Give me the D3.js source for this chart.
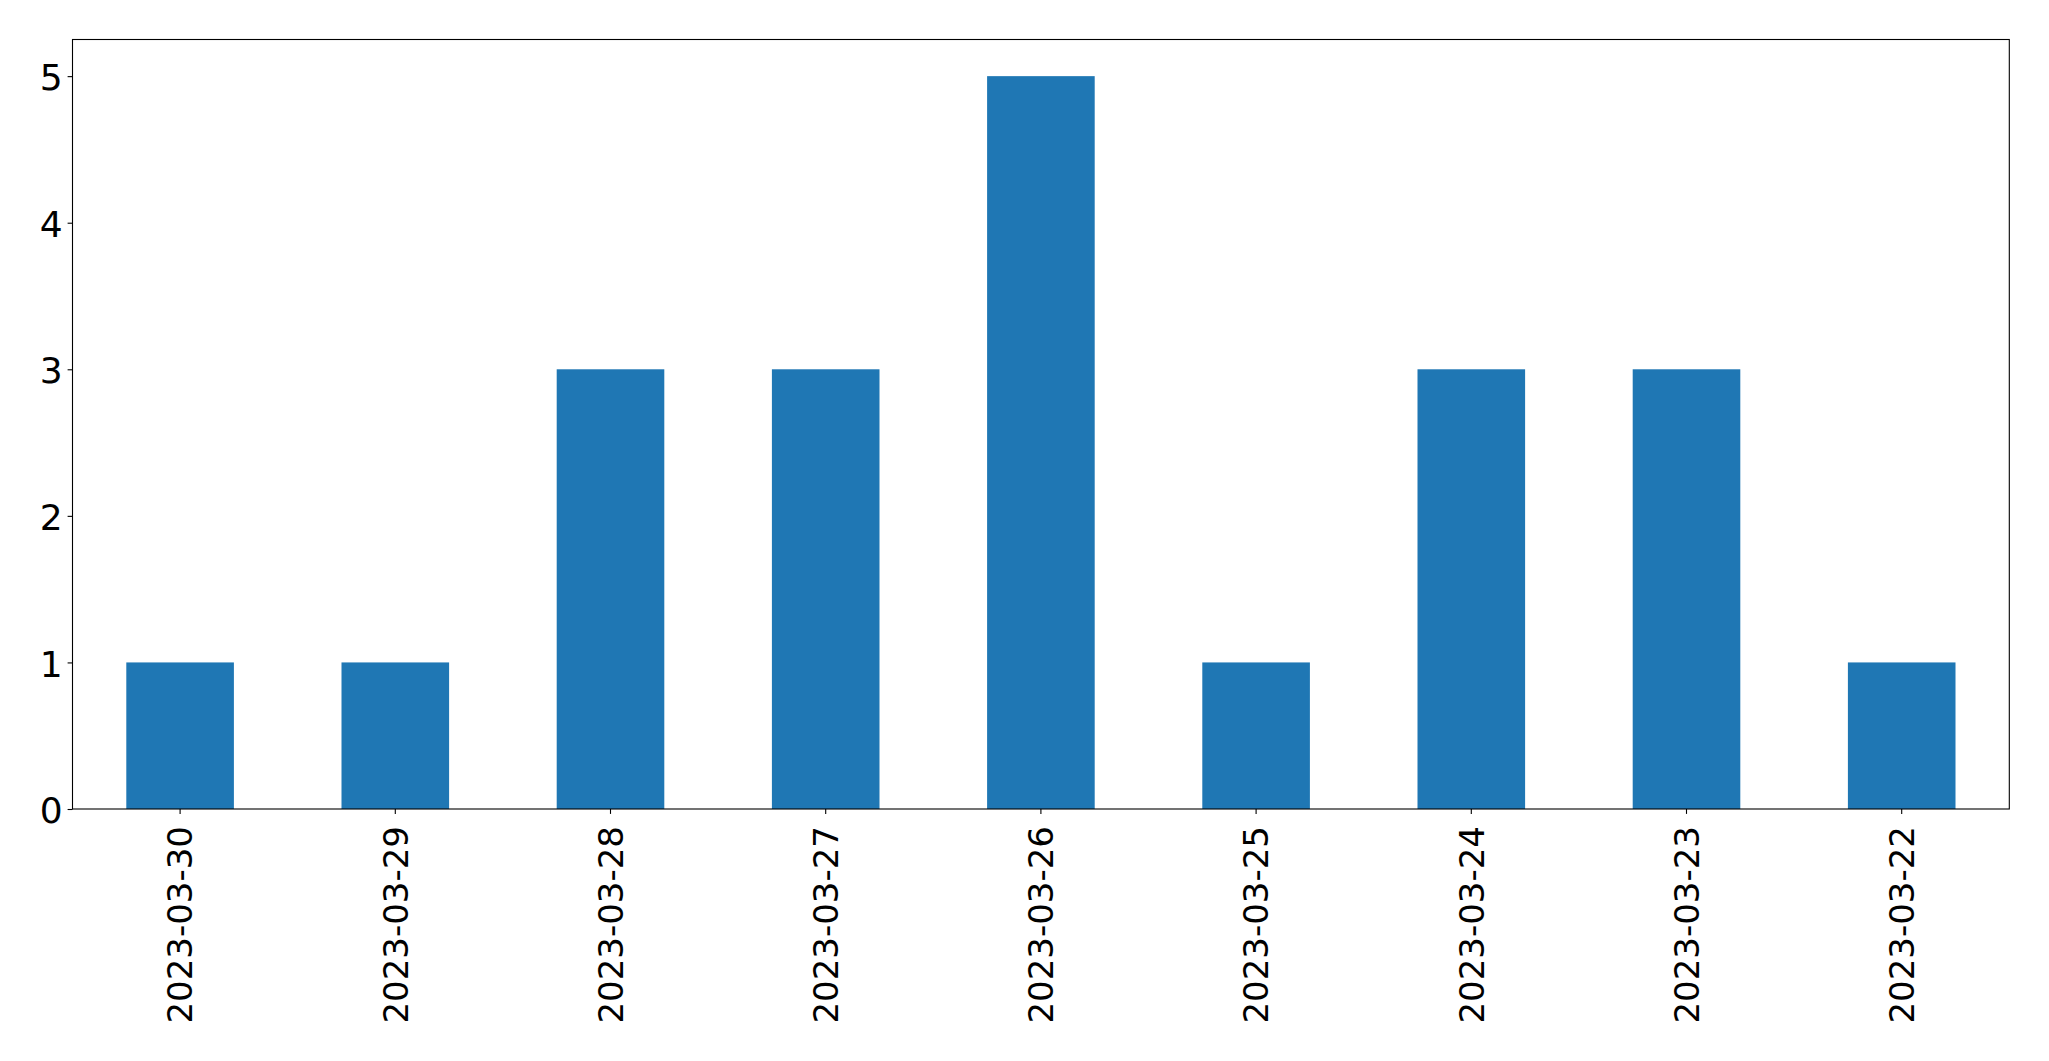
<!DOCTYPE html>
<html>
<head>
<meta charset="utf-8">
<script src="https://cdn.jsdelivr.net/npm/d3@7"></script>
<style>
  html, body { margin: 0; padding: 0; background: #fff; }
  svg { display: block; }
</style>
</head>
<body>
<script>
const categories = ["2023-03-30","2023-03-29","2023-03-28","2023-03-27","2023-03-26","2023-03-25","2023-03-24","2023-03-23","2023-03-22"];
const values = [1, 1, 3, 3, 5, 1, 3, 3, 1];
const yTicks = [0, 1, 2, 3, 4, 5];

const W = 2049, H = 1061;
const mLeft = 72.5, mRight = 2009.3, mTop = 39.5, mBottom = 809;

const svg = d3.select("body").append("svg").attr("width", W).attr("height", H);

const x = d3.scaleBand().domain(categories).range([mLeft, mRight]).paddingInner(0.5).paddingOuter(0.25);
const y = d3.scaleLinear().domain([0, 5.25]).range([mBottom, mTop]);

svg.append("g").selectAll("rect").data(values).join("rect")
  .attr("x", (d, i) => x(categories[i]))
  .attr("width", x.bandwidth())
  .attr("y", d => y(d))
  .attr("height", d => y(0) - y(d))
  .attr("fill", "#1f77b4");

// frame
svg.append("rect")
  .attr("x", mLeft).attr("y", mTop)
  .attr("width", mRight - mLeft).attr("height", mBottom - mTop)
  .attr("fill", "none").attr("stroke", "#000").attr("stroke-width", 1.1);

// y axis
const yAxis = svg.append("g").attr("transform", `translate(${mLeft},0)`)
  .call(d3.axisLeft(y).tickValues(yTicks).tickSize(4.9).tickPadding(5).tickFormat(d3.format("d")));
yAxis.select(".domain").remove();
yAxis.selectAll("line").attr("stroke", "#000").attr("stroke-width", 1.1);
yAxis.selectAll("text")
  .attr("font-family", "DejaVu Sans").attr("font-size", 36).attr("fill", "#000")
  .attr("dy", "0.38em");

// x axis
const xAxis = svg.append("g").attr("transform", `translate(0,${mBottom})`)
  .call(d3.axisBottom(x).tickSize(4.9).tickPadding(0));
xAxis.select(".domain").remove();
xAxis.selectAll("line").attr("stroke", "#000").attr("stroke-width", 1.1);
xAxis.selectAll("text")
  .attr("font-family", "DejaVu Sans").attr("font-size", 34).attr("fill", "#000")
  .attr("text-anchor", "end")
  .attr("y", 0).attr("dy", "0.36em")
  .attr("transform", "translate(0,17) rotate(-90)");
</script>
</body>
</html>
